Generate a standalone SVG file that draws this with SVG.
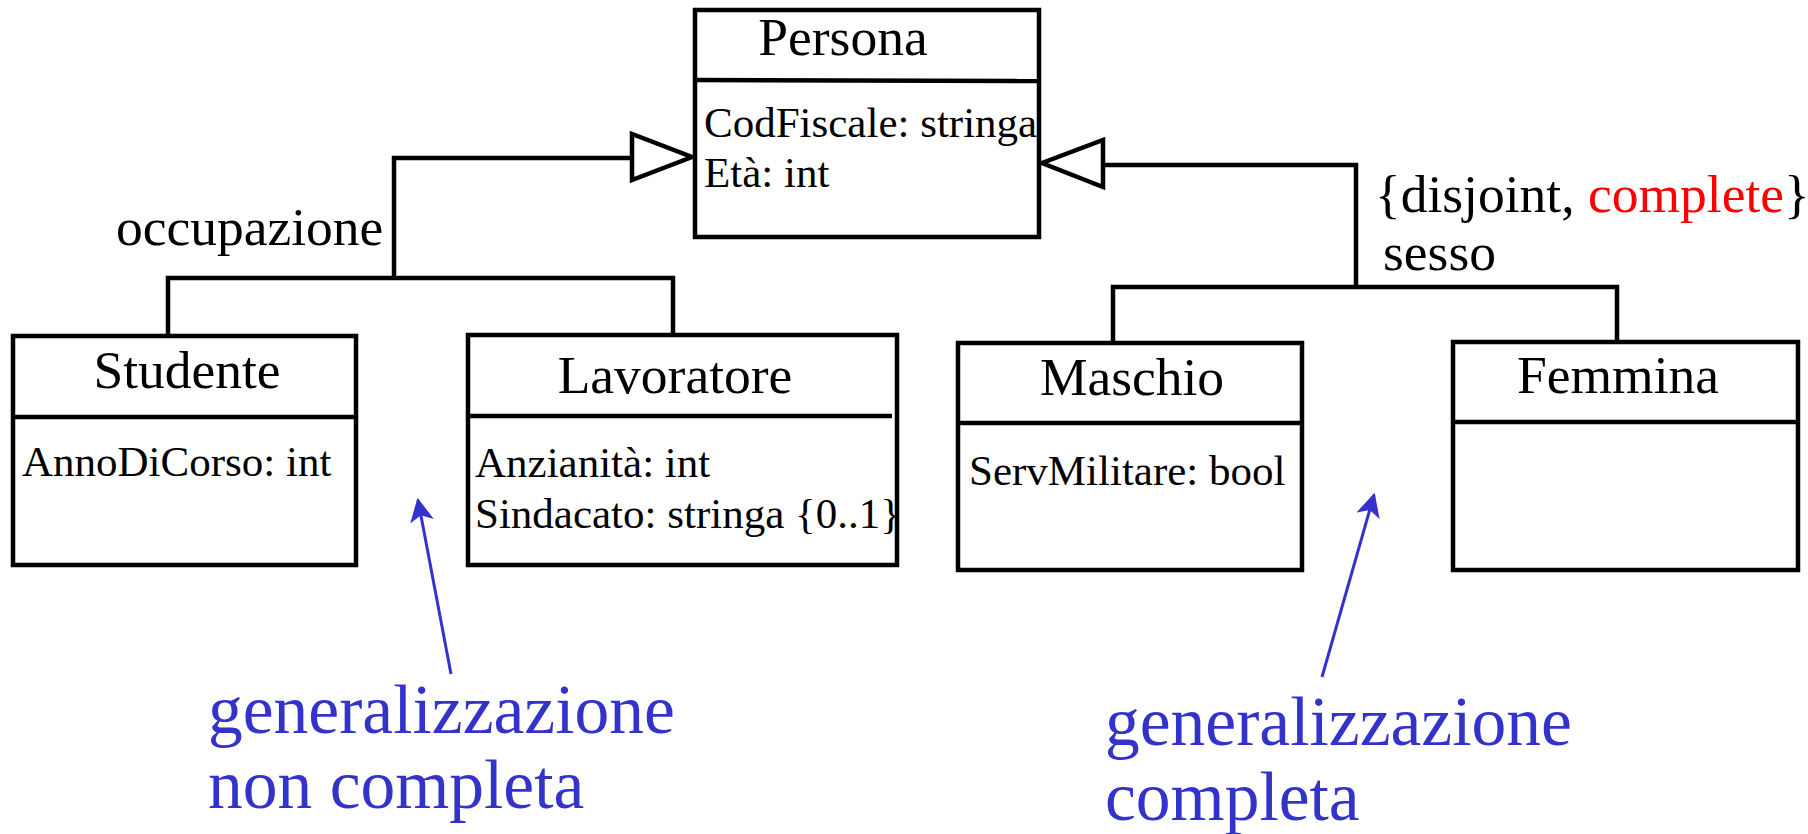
<svg xmlns="http://www.w3.org/2000/svg" width="1808" height="834" viewBox="0 0 1808 834">
<style>
.box{fill:#fff;stroke:#000;stroke-width:4.5}
.div{stroke:#000;stroke-width:4.5}
.t{font-family:"Liberation Serif","Times New Roman",serif;fill:#000}
.title{font-size:53.5px;text-anchor:middle}
.attr{font-size:43px}
.lbl{font-size:53.5px}
.conn{fill:none;stroke:#000;stroke-width:4.5}
.tri{fill:#fff;stroke:#000;stroke-width:4.5}
.note{font-family:"Liberation Serif","Times New Roman",serif;font-size:69.5px;fill:#3333CC}
.blue{stroke:#3333CC;stroke-width:3;fill:none}
</style>
<defs>
<marker id="ah" viewBox="0 0 20 20" refX="18" refY="10" markerWidth="8" markerHeight="8" markerUnits="strokeWidth" orient="auto">
<path d="M0,0 L20,10 L0,20 L5,10 Z" fill="#3333CC"/>
</marker>
</defs>
<g id="connectors">
<polyline class="conn" points="168,336 168,278 673,278 673,334"/>
<polyline class="conn" points="394,278 394,158 632,158"/>
<polygon class="tri" points="632,134 632,180 692,157"/>
<polyline class="conn" points="1113,343 1113,287 1617,287 1617,340"/>
<polyline class="conn" points="1356,287 1356,165 1103,165"/>
<polygon class="tri" points="1103,140 1103,187 1042,163"/>
<line class="blue" x1="451" y1="674" x2="418" y2="500" marker-end="url(#ah)"/>
<line class="blue" x1="1322" y1="677" x2="1374" y2="495" marker-end="url(#ah)"/>
</g>
<g id="Persona">
<rect class="box" x="695" y="10" width="344" height="227"/>
<line class="div" x1="695" y1="80" x2="1039" y2="81"/>
<text class="t title" x="843" y="55">Persona</text>
<text class="t attr" x="704" y="137">CodFiscale: stringa</text>
<text class="t attr" x="704" y="187">Età: int</text>
</g>
<g id="Studente">
<rect class="box" x="13" y="336" width="343" height="229"/>
<line class="div" x1="13" y1="417" x2="356" y2="417"/>
<text class="t title" x="187" y="388">Studente</text>
<text class="t attr" x="22" y="476">AnnoDiCorso: int</text>
</g>
<g id="Lavoratore">
<rect class="box" x="468" y="335" width="429" height="230"/>
<line class="div" x1="468" y1="416" x2="892" y2="416"/>
<text class="t title" x="675" y="393">Lavoratore</text>
<text class="t attr" x="475" y="477">Anzianità: int</text>
<text class="t attr" x="475" y="528">Sindacato: stringa {0..1}</text>
</g>
<g id="Maschio">
<rect class="box" x="958" y="343" width="344" height="227"/>
<line class="div" x1="958" y1="423" x2="1302" y2="423"/>
<text class="t title" x="1132" y="395">Maschio</text>
<text class="t attr" x="969" y="485">ServMilitare: bool</text>
</g>
<g id="Femmina">
<rect class="box" x="1453" y="342" width="345" height="228"/>
<line class="div" x1="1453" y1="422" x2="1798" y2="422"/>
<text class="t title" x="1618" y="393">Femmina</text>
</g>
<g id="labels">
<text class="t lbl" x="116" y="245">occupazione</text>
<text class="t lbl" x="1375" y="212">{disjoint, <tspan fill="#FF0000">complete</tspan>}</text>
<text class="t lbl" x="1383" y="270">sesso</text>
<text class="note" x="208" y="733">generalizzazione</text>
<text class="note" x="208" y="808">non completa</text>
<text class="note" x="1105" y="745">generalizzazione</text>
<text class="note" x="1105" y="820">completa</text>
</g>
</svg>
